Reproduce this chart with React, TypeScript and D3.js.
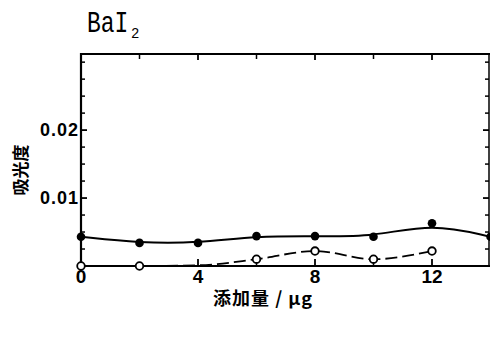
import React from "react";
import * as d3 from "d3";

const xFilled = [0, 2, 4, 6, 8, 10, 12, 14];
const yFilled = [0.0043, 0.0034, 0.0034, 0.0044, 0.0044, 0.0043, 0.0063, 0.0043];
const xOpen = [0, 2, 4, 6, 8, 10, 12];
const yOpen = [0, 0, 0.0001, 0.001, 0.0022, 0.001, 0.0022];
const xMajorTicks = [0, 4, 8, 12];
const xMinorTicks = [2, 6, 10];
const yMajorTicks = [0.01, 0.02];
const yMinorTicks = [0.0025, 0.005, 0.0075, 0.0125, 0.015, 0.0175, 0.0225, 0.025, 0.0275, 0.03];
const yTickLabels = ["0.01", "0.02"];
const xTickLabels = ["0", "4", "8", "12"];

export default function App() {
  const W = 490, H = 337;
  const left = 81, right = 490.5, top = 54, bottom = 266;
  const x = d3.scaleLinear().domain([0, 14]).range([left, right]);
  const y = d3.scaleLinear().domain([0, 0.0312]).range([bottom, top]);
  const filled = xFilled.map((v, i) => [v, yFilled[i]] as [number, number]);
  const open = xOpen.map((v, i) => [v, yOpen[i]] as [number, number]);
  const solidLine = d3.line<[number, number]>().x(d => x(d[0])).y(d => y(d[1])).curve(d3.curveBasis);
  const dashLine = d3.line<[number, number]>().x(d => x(d[0])).y(d => y(d[1])).curve(d3.curveMonotoneX);
  const rx = 489;
  const bold = "'Liberation Sans', Arial, sans-serif";
  return (
    <svg width={W} height={H} style={{ position: "absolute", left: 0, top: 0, background: "#fff" }}>
      <rect x={0} y={0} width={W} height={H} fill="#fff" />
      {/* title */}
      <text x={87} y={32} fontFamily="'Liberation Mono', 'DejaVu Sans Mono', monospace" fontSize={23} fill="#000" transform="translate(0,-8) scale(1,1.25)">
        BaI
      </text>
      <text x={131} y={38} fontFamily="'Liberation Mono', 'DejaVu Sans Mono', monospace" fontSize={14} fill="#000">
        2
      </text>
      {/* frame */}
      <path d={`M${left},${bottom} V${top} H${W}`} fill="none" stroke="#000" strokeWidth={2.2} />
      <line x1={left} x2={W} y1={bottom} y2={bottom} stroke="#000" strokeWidth={2} />
      <line x1={rx} x2={rx} y1={top} y2={bottom} stroke="#000" strokeWidth={1.5} />
      {/* y ticks */}
      {yMajorTicks.map(t => (
        <g key={"ym" + t}>
          <line x1={left} x2={left + 6} y1={y(t)} y2={y(t)} stroke="#000" strokeWidth={1.8} />
          <line x1={rx - 6} x2={rx} y1={y(t)} y2={y(t)} stroke="#000" strokeWidth={1.8} />
        </g>
      ))}
      {yMinorTicks.map(t => (
        <g key={"yn" + t}>
          <line x1={left} x2={left + 4} y1={y(t)} y2={y(t)} stroke="#000" strokeWidth={1.5} />
          <line x1={rx - 4} x2={rx} y1={y(t)} y2={y(t)} stroke="#000" strokeWidth={1.5} />
        </g>
      ))}
      {yMajorTicks.map((t, i) => (
        <text key={"yl" + t} x={79} y={y(t)} dy="0.35em" textAnchor="end" fontFamily={bold} fontWeight="bold" fontSize={18} letterSpacing={1} fill="#000">
          {yTickLabels[i]}
        </text>
      ))}
      {/* x ticks */}
      {xMajorTicks.map(t => (
        <g key={"xm" + t}>
          <line x1={x(t)} x2={x(t)} y1={bottom} y2={bottom - 7} stroke="#000" strokeWidth={1.8} />
          <line x1={x(t)} x2={x(t)} y1={top} y2={top + 6} stroke="#000" strokeWidth={1.8} />
        </g>
      ))}
      {xMinorTicks.map(t => (
        <g key={"xn" + t}>
          <line x1={x(t)} x2={x(t)} y1={bottom} y2={bottom - 4} stroke="#000" strokeWidth={1.5} />
          <line x1={x(t)} x2={x(t)} y1={top} y2={top + 5} stroke="#000" strokeWidth={1.5} />
        </g>
      ))}
      {xMajorTicks.map((t, i) => (
        <text key={"xl" + t} x={x(t)} y={283} textAnchor="middle" fontFamily={bold} fontWeight="bold" fontSize={19} fill="#000">
          {xTickLabels[i]}
        </text>
      ))}
      {/* axis titles */}
      <text transform={`translate(27,170) rotate(-90)`} textAnchor="middle" fontFamily="'Noto Sans CJK JP', sans-serif" fontWeight="bold" fontSize={17} fill="#000">
        吸光度
      </text>
      <text x={263} y={305} textAnchor="middle" fontFamily="'Noto Sans CJK JP', sans-serif" fontWeight="bold" fontSize={18} letterSpacing={1} fill="#000">
        添加量 / μg
      </text>
      {/* series */}
      <path d={solidLine(filled) || ""} fill="none" stroke="#000" strokeWidth={2} />
      <path d={dashLine(open) || ""} fill="none" stroke="#000" strokeWidth={1.8} strokeDasharray="12,5" />
      {filled.map((d, i) => (
        <circle key={"f" + i} cx={x(d[0])} cy={y(d[1])} r={4.3} fill="#000" />
      ))}
      {open.filter((d, i) => i !== 2).map((d, i) => (
        <circle key={"o" + i} cx={x(d[0])} cy={y(d[1])} r={3.8} fill="#fff" stroke="#000" strokeWidth={1.8} />
      ))}
    </svg>
  );
}
